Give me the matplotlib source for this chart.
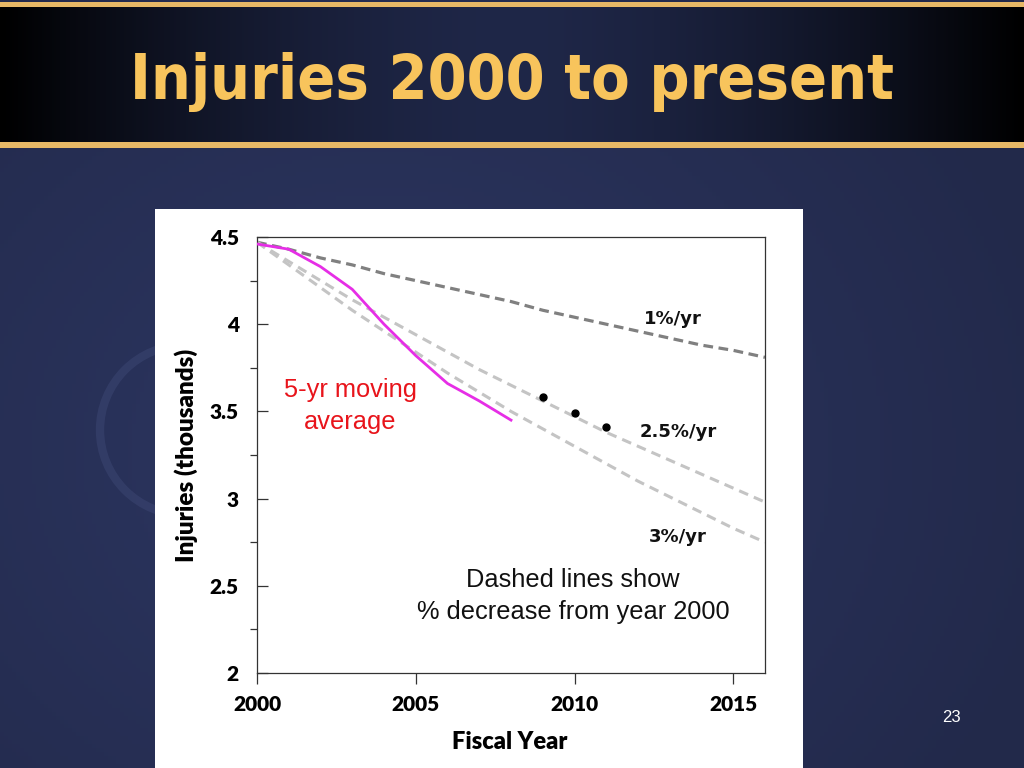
import numpy as np
import matplotlib
matplotlib.use("Agg")
import matplotlib.pyplot as plt
from matplotlib.patches import Rectangle, Circle

# ---------------- data ----------------
years_ref = [2000, 2001, 2002, 2003, 2004, 2005, 2006, 2007, 2008,
             2009, 2010, 2011, 2012, 2013, 2014, 2015, 2016]
rate_1pct = [4.47, 4.43, 4.38, 4.34, 4.29, 4.25, 4.21, 4.17, 4.13,
             4.08, 4.04, 4.00, 3.96, 3.92, 3.88, 3.85, 3.81]
rate_2_5pct = [4.47, 4.36, 4.25, 4.14, 4.04, 3.94, 3.84, 3.74, 3.65,
               3.56, 3.47, 3.38, 3.30, 3.22, 3.14, 3.06, 2.98]
rate_3pct = [4.47, 4.34, 4.21, 4.08, 3.96, 3.84, 3.72, 3.61, 3.50,
             3.40, 3.30, 3.20, 3.10, 3.01, 2.92, 2.83, 2.75]

ma_years = [2000, 2001, 2002, 2003, 2004, 2005, 2006, 2007, 2008]
ma_values = [4.46, 4.43, 4.33, 4.20, 4.00, 3.82, 3.66, 3.56, 3.45]

point_years = [2009, 2010, 2011]
point_values = [3.58, 3.49, 3.41]

x_ticks = [2000, 2005, 2010, 2015]
y_ticks = [2, 2.5, 3, 3.5, 4, 4.5]
y_tick_labels = ["2", "2.5", "3", "3.5", "4", "4.5"]
y_minor = [2.25, 2.75, 3.25, 3.75, 4.25]

title = "Injuries 2000 to present"
x_label = "Fiscal Year"
y_label = "Injuries (thousands)"

# ---------------- figure / slide background ----------------
W, H = 1024, 768
plt.rcParams["lines.scale_dashes"] = False
fig = plt.figure(figsize=(W / 100, H / 100), dpi=100)

bg = fig.add_axes([0, 0, 1, 1])
bg.set_xlim(0, W)
bg.set_ylim(H, 0)
bg.axis("off")

# radial navy gradient
yy, xx = np.mgrid[0:H:4, 0:W:4]
r = np.sqrt(((xx - 380) / 700.0) ** 2 + ((yy - 450) / 600.0) ** 2)
t = np.clip(r, 0, 1)[..., None]
c_in = np.array([0x2d, 0x37, 0x63]) / 255.0
c_out = np.array([0x22, 0x29, 0x4a]) / 255.0
img = c_in * (1 - t) + c_out * t
bg.imshow(img, extent=(0, W, H, 0), aspect="auto", zorder=0)

# faint compass ring behind panel
bg.add_patch(Circle((185, 430), 85, fill=False, lw=6, ec="#3a4470", alpha=0.6, zorder=1))

# title bar: black edges, navy centre
xs = np.linspace(-1, 1, 512)
tb = np.abs(xs) ** 1.6
c_mid = np.array([0x1f, 0x27, 0x48]) / 255.0
bar = (c_mid[None, :] * (1 - tb[:, None]))[None, :, :]
bg.imshow(bar, extent=(0, W, 142, 6), aspect="auto", zorder=2)
bg.add_patch(Rectangle((0, 2), W, 5, color="#E7B866", zorder=3, lw=0))
bg.add_patch(Rectangle((0, 142), W, 6, color="#E7B866", zorder=3, lw=0))
bg.text(512, 99, title, color="#F8C45C", fontsize=45, fontweight="bold",
        family="DejaVu Sans", fontstretch="condensed",
        ha="center", va="baseline", zorder=4)

# white chart panel
bg.add_patch(Rectangle((155, 209), 648, 560, color="white", zorder=3, lw=0))

# page number
bg.text(951, 717, "23", color="white", fontsize=12, family="Liberation Sans",
        ha="center", va="center", zorder=4)

# ---------------- chart axes ----------------
ax = fig.add_axes([257 / W, 1 - 673 / H, 508 / W, 436 / H])
ax.set_facecolor("white")
ax.set_xlim(2000, 2016)
ax.set_ylim(2, 4.5)

ax.plot(years_ref, rate_1pct, color="#808080", lw=2.3, dashes=(7, 4), zorder=2)
ax.plot(years_ref, rate_2_5pct, color="#c4c4c4", lw=2.2, dashes=(7, 4.5), zorder=2)
ax.plot(years_ref, rate_3pct, color="#c4c4c4", lw=2.2, dashes=(7, 4.5), zorder=2)
ax.plot(ma_years, ma_values, color="#E62EE6", lw=2.0, zorder=3)
ax.plot(point_years, point_values, "o", color="black", ms=5, zorder=4)

lab_font = dict(family="DejaVu Sans", fontweight="bold", fontsize=13, color="#111111")
ax.text(2013.1, 4.03, "1%/yr", ha="center", va="center", **lab_font)
ax.text(2013.26, 3.38, "2.5%/yr", ha="center", va="center", **lab_font)
ax.text(2013.26, 2.78, "3%/yr", ha="center", va="center", **lab_font)

ax.text(2002.93, 3.53, "5-yr moving\naverage", color="#E8141B", fontsize=18.3,
        family="Liberation Sans", ha="center", va="center", linespacing=1.4)
ax.text(2009.95, 2.44, "Dashed lines show\n% decrease from year 2000", color="#111111",
        fontsize=18.3, family="Liberation Sans", ha="center", va="center", linespacing=1.4)

for s in ax.spines.values():
    s.set_color("#333333")
    s.set_linewidth(0.9)

ax.set_xticks(x_ticks)
ax.set_xticklabels([str(x) for x in x_ticks])
ax.set_yticks(y_ticks)
ax.set_yticklabels(y_tick_labels)
ax.set_yticks(y_minor, minor=True)
ax.tick_params(axis="x", direction="out", length=8, width=0.9, color="#333333", pad=8)
ax.tick_params(axis="y", which="major", direction="in", length=8, width=0.9,
               color="#333333", pad=13)
ax.tick_params(axis="y", which="minor", direction="out", length=5, width=0.9, color="#333333")
for lbl in ax.get_xticklabels() + ax.get_yticklabels():
    lbl.set_family("Lato")
    lbl.set_fontweight("heavy")
    lbl.set_fontsize(15)
    lbl.set_color("black")

ax.set_xlabel(x_label, family="Lato", fontweight="heavy", fontsize=17, color="black")
ax.xaxis.set_label_coords((510 - 257) / 508, -(731 - 673) / 436)
ax.set_ylabel(y_label, family="Lato", fontweight="heavy", fontsize=17.5, color="black",
              va="center")
ax.yaxis.set_label_coords(-(257 - 186) / 508, (673 - 455) / 436)

fig.savefig("out.png", dpi=100)
